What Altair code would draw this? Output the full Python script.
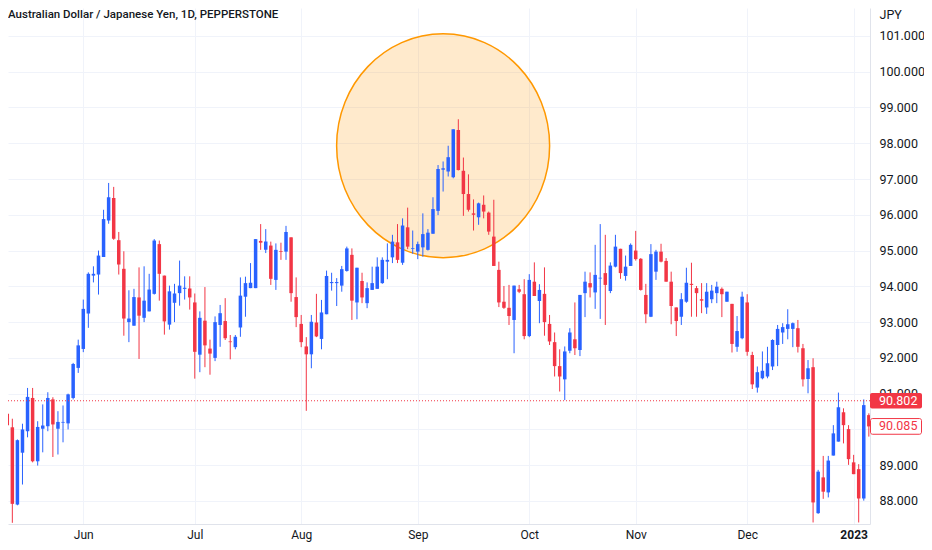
import altair as alt
import pandas as pd

# ---- data (daily AUD/JPY candles) ----
opens = [90.47, 90.44, 90.06, 87.90, 89.35, 89.95, 90.88, 89.11, 90.02, 90.09,
         90.84, 90.02, 90.19, 90.17, 90.88, 91.72, 92.25, 93.24, 94.30, 94.33,
         94.82, 95.84, 96.47, 95.29, 94.49, 93.00, 92.90, 93.69, 93.12, 93.30,
         93.79, 95.18, 94.30, 92.93, 93.54, 93.81, 93.93, 93.94, 93.55, 92.09,
         93.04, 92.26, 92.00, 92.92, 93.03, 92.46, 92.30, 92.85, 93.71, 93.95,
         93.95, 95.27, 95.02, 95.14, 94.18, 94.98, 94.97, 95.37, 93.70, 92.95,
         92.32, 92.10, 92.99, 92.53, 93.22, 94.09, 94.09, 94.02, 94.43, 94.88,
         93.55, 94.15, 93.53, 93.90, 93.93, 94.09, 94.69, 94.81, 95.23, 94.66,
         95.65, 95.05, 94.97, 95.09, 95.02, 95.47, 96.11, 97.26, 97.21, 97.05,
         98.37, 97.23, 96.58, 96.04, 95.93, 96.28, 96.06, 95.39, 94.46, 93.57,
         93.40, 93.06, 93.92, 93.78, 92.61, 94.13, 93.59, 93.79, 92.95, 92.44,
         91.77, 91.40, 92.20, 92.52, 92.22, 93.81, 94.09, 93.83, 94.22, 94.37,
         93.87, 94.55, 95.05, 94.29, 94.57, 95.00, 94.77, 93.76, 93.15, 94.41,
         94.97, 94.71, 94.13, 93.41, 93.15, 93.57, 94.07, 93.95, 93.64, 93.41,
         93.64, 93.81, 93.93, 93.57, 93.51, 92.31, 92.55, 93.55, 92.08, 91.17,
         91.43, 91.48, 91.76, 92.36, 92.71, 92.81, 92.81, 92.83, 92.27, 91.41,
         91.74, 87.66, 88.66, 88.24, 89.27, 89.66, 90.48, 90.01, 89.08, 88.89,
         88.07, 90.40]
highs = [91.16, 91.77, 90.30, 89.72, 90.16, 91.16, 91.16, 90.23, 90.70, 91.04,
         90.90, 90.51, 90.67, 91.00, 91.86, 92.51, 93.63, 94.39, 94.56, 95.00,
         96.14, 96.89, 96.78, 95.52, 94.98, 93.89, 93.93, 94.53, 94.56, 94.35,
         95.32, 95.28, 94.30, 94.02, 94.07, 94.72, 94.28, 94.28, 93.80, 93.30,
         93.98, 92.51, 93.16, 93.48, 93.67, 92.64, 92.64, 94.25, 94.27, 94.65,
         95.32, 95.74, 95.60, 95.25, 95.20, 95.22, 95.69, 95.37, 94.25, 93.20,
         92.58, 93.20, 93.79, 93.62, 94.44, 94.38, 94.23, 94.57, 95.11, 95.06,
         94.52, 94.38, 94.11, 94.55, 94.81, 94.81, 95.20, 95.44, 95.74, 95.90,
         96.20, 95.56, 95.25, 96.04, 95.60, 96.49, 97.39, 97.49, 97.93, 98.39,
         98.67, 97.60, 97.13, 96.43, 96.34, 96.54, 96.09, 96.42, 94.69, 94.01,
         94.04, 94.02, 94.04, 94.20, 94.34, 94.67, 94.06, 94.53, 93.20, 92.71,
         92.24, 92.32, 92.83, 93.55, 93.76, 94.41, 94.39, 95.16, 95.74, 95.44,
         94.67, 95.44, 95.05, 94.86, 95.20, 95.55, 94.79, 94.07, 95.18, 95.02,
         95.19, 94.79, 94.41, 93.41, 93.81, 94.52, 94.66, 94.01, 94.09, 94.09,
         94.04, 94.13, 93.97, 93.85, 93.51, 93.17, 93.85, 93.78, 92.17, 91.76,
         92.18, 92.31, 92.52, 92.92, 92.97, 93.36, 92.99, 93.06, 92.39, 91.94,
         91.99, 88.87, 89.26, 89.26, 90.12, 91.03, 90.59, 90.12, 89.29, 89.03,
         90.84, 90.45]
lows = [89.76, 89.76, 87.39, 87.88, 88.46, 89.78, 89.08, 88.99, 89.36, 89.95,
        89.23, 89.30, 89.64, 90.00, 90.84, 91.58, 92.16, 92.84, 94.11, 93.77,
        94.82, 95.75, 95.30, 94.33, 92.62, 92.44, 92.90, 91.97, 93.00, 93.30,
        93.77, 93.60, 92.65, 92.79, 93.00, 93.46, 93.63, 93.35, 91.42, 91.60,
        91.74, 91.53, 91.91, 92.31, 92.50, 91.96, 92.24, 92.59, 93.15, 93.95,
        93.95, 95.02, 94.93, 94.04, 93.90, 94.74, 94.74, 93.57, 92.86, 92.30,
        90.52, 91.71, 92.58, 92.24, 93.22, 93.88, 93.45, 93.85, 94.41, 93.06,
        93.08, 93.53, 93.39, 93.90, 93.93, 94.07, 94.20, 94.65, 94.65, 94.60,
        95.04, 94.91, 94.76, 94.83, 95.00, 95.47, 95.99, 96.65, 97.07, 97.02,
        97.24, 95.97, 96.09, 95.56, 95.72, 95.90, 95.44, 94.57, 93.42, 93.37,
        92.92, 92.13, 93.81, 92.52, 92.58, 93.73, 92.97, 92.62, 92.36, 91.48,
        91.06, 90.82, 92.13, 92.08, 92.05, 93.14, 93.69, 93.37, 93.09, 92.92,
        93.81, 94.53, 94.21, 94.16, 94.57, 94.72, 93.88, 92.97, 93.14, 94.18,
        94.67, 94.13, 92.94, 92.61, 92.92, 93.54, 93.15, 93.15, 93.25, 93.23,
        93.53, 93.53, 93.14, 93.57, 92.15, 92.17, 92.52, 92.06, 91.13, 91.03,
        91.40, 91.43, 91.66, 91.77, 92.39, 92.52, 92.30, 92.15, 91.20, 91.01,
        87.40, 87.64, 88.06, 88.10, 89.27, 89.66, 89.61, 89.01, 88.75, 87.40,
        88.01, 89.80]
closes = [90.52, 90.12, 87.92, 89.70, 90.00, 90.91, 89.11, 90.07, 90.11, 90.88,
          90.14, 90.21, 90.21, 90.98, 91.83, 92.35, 93.37, 94.35, 94.35, 94.86,
          95.88, 96.49, 95.33, 94.61, 93.10, 93.10, 93.70, 93.18, 93.60, 93.91,
          95.28, 94.35, 93.02, 93.86, 93.80, 94.02, 93.96, 93.69, 92.17, 93.12,
          92.35, 92.12, 93.00, 93.25, 92.55, 92.44, 92.59, 93.74, 94.09, 94.10,
          95.32, 95.22, 95.25, 94.21, 95.02, 94.96, 95.52, 93.81, 93.14, 92.44,
          92.10, 93.01, 92.60, 93.27, 94.29, 94.12, 94.12, 94.48, 95.06, 93.60,
          94.52, 93.69, 93.95, 94.09, 94.55, 94.74, 94.74, 95.25, 94.74, 95.70,
          95.11, 95.07, 95.18, 95.46, 95.50, 96.16, 97.28, 97.30, 97.61, 98.39,
          97.25, 96.58, 96.14, 96.00, 96.32, 96.09, 95.53, 94.57, 93.55, 93.40,
          93.17, 94.02, 93.85, 92.61, 94.18, 93.73, 93.90, 93.00, 92.46, 91.77,
          91.48, 92.18, 92.71, 92.27, 93.76, 94.13, 93.97, 94.32, 94.24, 94.04,
          94.58, 95.11, 94.37, 94.55, 95.16, 94.76, 93.90, 93.22, 94.90, 94.97,
          94.69, 94.13, 93.45, 93.03, 93.64, 94.10, 94.04, 93.81, 93.60, 93.85,
          93.88, 93.99, 93.78, 93.85, 92.39, 92.75, 93.71, 92.17, 91.26, 91.60,
          91.64, 91.85, 92.50, 92.81, 92.86, 92.94, 92.97, 92.31, 91.40, 91.71,
          87.96, 88.82, 88.26, 89.13, 89.89, 90.62, 90.12, 89.17, 88.75, 88.07,
          90.68, 90.085]

month_ticks = [17, 39, 60, 83, 105, 126, 148, 169]
month_labels = ["Jun", "Jul", "Aug", "Sep", "Oct", "Nov", "Dec", "2023"]
price_ticks = [88, 89, 90, 91, 92, 93, 94, 95, 96, 97, 98, 99, 100, 101]
hidden_price_label = 90   # covered by the 90.085 price tag in the reference
last_price = 90.802
second_price = 90.085
highlight_candle = [88]
highlight_price = [97.93]
title_text = "Australian Dollar / Japanese Yen, 1D, PEPPERSTONE"
currency = "JPY"

# ---- build table ----
n = len(opens)
df = pd.DataFrame({
    "i": list(range(1, n + 1)),
    "open": opens, "high": highs, "low": lows, "close": closes,
})
df["dir"] = ["up" if c >= o else "down" for o, c in zip(opens, closes)]
one = pd.DataFrame({"k": [0]})

UP, DOWN = "#2962FF", "#F23645"
TXT = "#131722"
GRID = "#F0F3FA"
FONT = "Roboto"

W, H = 862, 516
ydom = [87.357, 101.78]
xs = alt.Scale(domain=[2.144, 172.23], nice=False, zero=False, padding=0)
ys = alt.Scale(domain=ydom, nice=False, zero=False, padding=0)
col = alt.Color("dir:N", scale=alt.Scale(domain=["up", "down"], range=[UP, DOWN]), legend=None)

label_expr = ""
for t, l in zip(month_ticks, month_labels):
    label_expr += f"datum.value == {t} ? '{l}' : "
label_expr += "''"

x_axis = alt.Axis(values=month_ticks, labelExpr=label_expr, grid=True, gridColor=GRID,
                  domainColor="#E0E3EB", tickSize=0, labelPadding=5.5, labelFont=FONT,
                  labelFontSize=12, labelColor=TXT, labelOverlap=False, labelFlush=False,
                  labelFontWeight={"condition": {"test": f"datum.value == {month_ticks[-1]}", "value": "bold"},
                                   "value": "normal"},
                  title=None)
y_axis = alt.Axis(orient="right", values=price_ticks,
                  labelExpr=f"datum.value == {hidden_price_label} ? '' : format(datum.value, '.3f')",
                  grid=True, gridColor=GRID,
                  domainColor="#E0E3EB", tickSize=0, labelPadding=9, labelFont=FONT,
                  labelFontSize=12.5, labelColor=TXT, labelOverlap=False, labelFlush=False,
                  title=currency, titleAngle=0, titleAlign="left", titleBaseline="middle",
                  titleX=9, titleY=6, titleFont=FONT, titleFontSize=12.5,
                  titleFontWeight="normal", titleColor=TXT)


def X(field):
    return alt.X(field, scale=xs, axis=x_axis)


def Y(field):
    return alt.Y(field, scale=ys, axis=y_axis)


def YD(v):
    return alt.YDatum(v, scale=ys, axis=y_axis)


# ellipse highlight (beneath the candles)
ell_df = pd.DataFrame({"i": highlight_candle, "p": highlight_price})
ell_path = "M -0.9517 0 A 0.9517 1 0 1 0 0.9517 0 A 0.9517 1 0 1 0 -0.9517 0 Z"
ellipse = alt.Chart(ell_df).mark_point(
    shape=ell_path, size=50086, filled=True, fill="#FF9800", fillOpacity=0.2,
    stroke="#FF9800", strokeWidth=1.5, strokeOpacity=1, opacity=1,
).encode(x=X("i:Q"), y=Y("p:Q"))

base = alt.Chart(df)
wicks = base.mark_rule(strokeWidth=1, clip=True).encode(
    x=X("i:Q"), y=Y("low:Q"), y2="high:Q", color=col,
)
bodies = base.mark_bar(width=3.5, clip=True).encode(
    x=X("i:Q"), y=Y("open:Q"), y2="close:Q", color=col,
)

last_line = alt.Chart(one).mark_rule(color=DOWN, strokeDash=[1, 2], strokeWidth=1).encode(
    y=YD(last_price)
)

half = 7.85 / (H / (ydom[1] - ydom[0]))
box1 = alt.Chart(one).mark_rect(fill=DOWN, cornerRadius=2).encode(
    x=alt.value(862), x2=alt.value(914),
    y=YD(last_price + half), y2=alt.datum(last_price - half),
)
box1_txt = alt.Chart(one).mark_text(align="left", baseline="middle", font=FONT, fontSize=12.5,
                                    color="white").encode(
    x=alt.value(871), y=YD(last_price), text=alt.value(f"{last_price:.3f}")
)
box2 = alt.Chart(one).mark_rect(fill="white", stroke=DOWN, strokeWidth=1, cornerRadius=2).encode(
    x=alt.value(862.5), x2=alt.value(913.5),
    y=YD(second_price + half), y2=alt.datum(second_price - half),
)
box2_txt = alt.Chart(one).mark_text(align="left", baseline="middle", font=FONT, fontSize=12.5,
                                    color=DOWN).encode(
    x=alt.value(871), y=YD(second_price), text=alt.value(f"{second_price:.3f}")
)

title = alt.Chart(one).mark_text(align="left", baseline="middle", font=FONT, fontSize=11.5,
                                 fontWeight=500, color=TXT).encode(
    x=alt.value(0), y=alt.value(7), text=alt.value(title_text)
)

chart = alt.layer(
    ellipse, wicks, bodies, last_line, box1, box1_txt, box2, box2_txt, title
).properties(
    width=W, height=H, background="white",
    autosize=alt.AutoSizeParams(type="none"),
    padding={"left": 0, "top": 0, "right": 54, "bottom": 18},
).configure_view(stroke=None)

chart.save("out.html", embed_options={"renderer": "svg", "actions": False})
